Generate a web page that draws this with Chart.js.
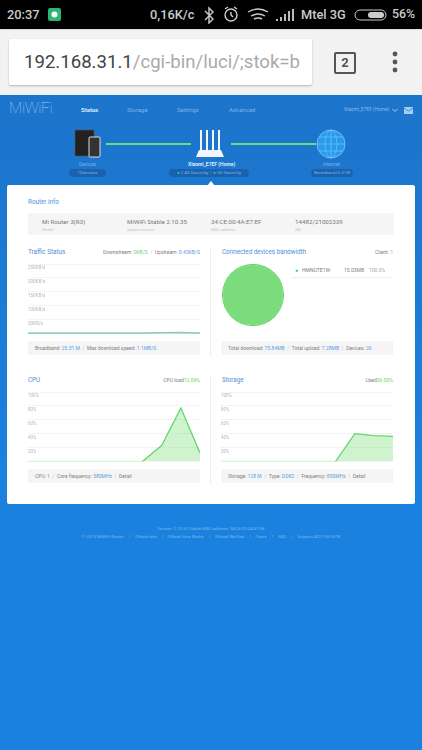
<!DOCTYPE html>
<html>
<head>
<meta charset="utf-8">
<title>MiWiFi</title>
<script src="https://cdn.jsdelivr.net/npm/chart.js@4/dist/chart.umd.min.js"></script>
<style>
  html, body { margin: 0; padding: 0; background: #1a82de; }
  body { width: 422px; height: 750px; overflow: hidden; position: relative; font-family: Roboto, sans-serif; filter: blur(.35px); }
  .a { position: absolute; white-space: nowrap; }
  .blue { color: #5b9be0; }
  .green { color: #6fd56f; }
  .sep { color: #ccc; margin: 0 2.500px; }
  .title { font-size: 6.3px; color: #4d8fdc; }
  .stat { font-size: 5px; color: #808080; }
  .box { position: absolute; background: #f5f5f5; }
  .foot { font-size: 4.3px; color: #7fb7ea; text-align: center; left: 0; width: 422px; }
  .foot i { font-style: normal; margin: 0 5.200px; }
  canvas { position: absolute; }
</style>
</head>
<body>
<!-- phone status bar -->
<div class="a" style="left:0;top:0;width:422px;height:29px;background:#000"></div>
<div class="a" style="left:7px;top:7px;font-size:12.8px;font-weight:500;color:#ccc">20:37</div>
<svg class="a" style="left:48px;top:8px" width="14" height="14"><rect width="13" height="13" rx="2" fill="#2bb573"/><circle cx="6.5" cy="6.5" r="3" fill="#fff"/></svg>
<div class="a" style="left:150px;top:7px;font-size:12.8px;font-weight:500;color:#ccc">0,16K/c</div>
<svg class="a" style="left:203px;top:6px" width="90" height="18" fill="none" stroke="#ccc" stroke-width="1.4">
  <path d="M2 5l8 8-4 4V2l4 4-8 8"/>
  <circle cx="28" cy="9" r="6"/><path d="M28 6v3l2 2M22 3l3-2M34 3l-3-2"/>
  <path d="M45 6q10-6 20 0M48 10q7-4 14 0M51 13q4-2 8 0"/>
</svg>
<svg class="a" style="left:275px;top:8px" width="20" height="14" fill="#bbb">
  <rect x="1" y="11" width="2" height="2"/><rect x="5" y="9" width="2" height="4"/><rect x="9" y="6" width="2" height="7"/><rect x="13" y="3" width="2" height="10"/><rect x="17" y="1" width="2" height="12"/>
</svg>
<div class="a" style="left:301px;top:7px;font-size:12.8px;font-weight:500;color:#ccc">Mtel 3G</div>
<svg class="a" style="left:354px;top:8px" width="35" height="14"><rect x="1" y="2" width="31" height="10" rx="5" fill="none" stroke="#ccc"/><rect x="14" y="4" width="16" height="6" rx="3" fill="#ccc"/></svg>
<div class="a" style="left:392px;top:7px;font-size:12.3px;font-weight:500;color:#ccc">56%</div>

<!-- browser toolbar -->
<div class="a" style="left:0;top:29px;width:422px;height:66px;background:#f2f2f2;border-top:1px solid #ddd;box-sizing:border-box"></div>
<div class="a" style="left:9px;top:39px;width:303px;height:46px;background:#fff;border-radius:2px;box-shadow:0 1px 2px rgba(0,0,0,.25)"></div>
<div class="a" style="left:24px;top:51px;font-size:18.6px;color:#444">192.168.31.1<span style="color:#aaa">/cgi-bin/luci/;stok=b</span></div>
<div class="a" style="left:334px;top:52px;width:18px;height:18px;border:2px solid #555;border-radius:2px;font-size:13px;font-weight:700;color:#555;text-align:center;line-height:18px">2</div>
<svg class="a" style="left:390px;top:50px" width="10" height="24" fill="#555"><circle cx="5" cy="4" r="2.4"/><circle cx="5" cy="12" r="2.4"/><circle cx="5" cy="20" r="2.4"/></svg>

<!-- router header -->
<div class="a" style="left:0;top:95px;width:422px;height:655px;background:linear-gradient(#1d74cb,#1a82de 60%)"></div>
<div class="a" style="left:9px;top:99px;font-size:15.500px;font-weight:100;color:#a9cdf0;letter-spacing:-.4px">MiWiFi</div>
<div class="a" style="left:81px;top:106px;font-size:6px;font-weight:700;color:#dcebfa">Status</div>
<div class="a" style="left:127px;top:106px;font-size:6px;color:#7fb2e6">Storage</div>
<div class="a" style="left:177px;top:106px;font-size:6px;color:#7fb2e6">Settings</div>
<div class="a" style="left:229px;top:106px;font-size:6px;color:#7fb2e6">Advanced</div>
<div class="a" style="left:344px;top:107px;font-size:4.800px;color:#89b9ea">Xiaomi_E7EF (Home)</div>
<svg class="a" style="left:392px;top:108px" width="6" height="5"><path d="M.5 1l2.500 2.500L5.500 1" stroke="#cfe3f8" fill="none" stroke-width=".8"/></svg>
<svg class="a" style="left:404px;top:107px" width="10" height="8"><rect width="9" height="7" fill="#a6cdf2"/><path d="M0 1l4.500 3 4.500-3" stroke="#1d74cb" fill="none" stroke-width=".7"/></svg>

<svg class="a" style="left:70px;top:125px" width="280" height="36">
  <rect x="5" y="5" width="19" height="26" fill="#222" stroke="#555" stroke-width=".6"/>
  <rect x="19" y="12" width="11" height="20" rx="1" fill="#333" stroke="#ddd" stroke-width="1"/>
  <rect x="36" y="18" width="85" height="2" fill="#5fe07a"/>
  <rect x="161" y="18" width="85" height="2" fill="#5fe07a"/>
  <g fill="#f2f6fa">
    <rect x="130" y="5" width="2" height="20"/><rect x="136" y="5" width="2" height="20"/><rect x="142" y="5" width="2" height="20"/><rect x="148" y="5" width="2" height="20"/>
    <path d="M126 32l3-7h22l3 7z"/>
  </g>
  <circle cx="261" cy="19" r="14" fill="#2a9bec" stroke="#8fd0fa" stroke-width=".7"/>
  <g fill="none" stroke="#8fd0fa" stroke-width=".5"><ellipse cx="261" cy="19" rx="6" ry="14"/><path d="M247 19h28M249 12h24M249 26h24M261 5v28"/></g>
</svg>
<div class="a" style="left:79px;top:161px;font-size:5px;color:#7db1e6">Devices</div>
<div class="a" style="left:69px;top:169px;width:37px;height:8px;background:#1a62ae;border-radius:4px;font-size:4.400px;color:#7db1e6;text-align:center;line-height:8px">10devices</div>
<div class="a" style="left:188px;top:161px;font-size:5px;font-weight:700;color:#dcebfa">Xiaomi_E7EF (Home)</div>
<div class="a" style="left:169px;top:169px;width:80px;height:8px;background:#1a62ae;border-radius:4px;font-size:4.200px;color:#7db1e6;line-height:8px;text-align:center"><span style="color:#30e060">&#9679;</span> 2.4G Xiaomi5g &nbsp;|&nbsp; <span style="color:#30e060">&#9679;</span> 5G Xiaomi5g</div>
<div class="a" style="left:323px;top:161px;font-size:5px;color:#7db1e6">Internet</div>
<div class="a" style="left:311px;top:169px;width:42px;height:8px;background:#1a62ae;border-radius:4px;font-size:4.400px;color:#7db1e6;text-align:center;line-height:8px">Broadband25.31M</div>
<svg class="a" style="left:204px;top:180px" width="14" height="6"><path d="M3 6l4-5 4 5z" fill="#fff"/></svg>

<!-- white card -->
<div class="a" style="left:7px;top:185px;width:408px;height:319px;background:#fff;border-radius:2px"></div>
<div class="a title" style="left:28px;top:198px">Router info</div>
<div class="box" style="left:28px;top:213px;width:366px;height:22px"></div>
<div class="a" style="left:42px;top:218px;font-size:6.200px;color:#777">Mi Router 3(R3)</div>
<div class="a" style="left:42px;top:227px;font-size:4px;color:#c4c4c4">Model</div>
<div class="a" style="left:127px;top:218px;font-size:6.200px;color:#777">MiWiFi Stable 2.10.35</div>
<div class="a" style="left:127px;top:227px;font-size:4px;color:#c4c4c4">System version</div>
<div class="a" style="left:211px;top:218px;font-size:6.200px;color:#777">34:CE:00:4A:E7:EF</div>
<div class="a" style="left:211px;top:227px;font-size:4px;color:#c4c4c4">MAC address</div>
<div class="a" style="left:295px;top:218px;font-size:6.200px;color:#777">14482/21002339</div>
<div class="a" style="left:295px;top:227px;font-size:4px;color:#c4c4c4">SN</div>

<div class="a" style="left:210px;top:248px;width:1px;height:108px;background:#eee"></div>
<div class="a" style="left:210px;top:376px;width:1px;height:108px;background:#eee"></div>

<!-- traffic panel -->
<div class="a title" style="left:28px;top:248px">Traffic Status</div>
<div class="a stat" style="right:222px;top:249px">Downstream: <span class="green">0KB/S</span><span class="sep">/</span>Upstream: <span class="blue">0.45KB/S</span></div>
<canvas id="trafficChart" style="left:28px;top:260px;width:172px;height:76px"></canvas>
<div class="box" style="left:28px;top:341px;width:172px;height:14px"></div>
<div class="a stat" style="left:35px;top:344.500px">Broadband: <span class="blue">25.31 M</span><span class="sep">/</span>Max download speed: <span class="blue">1.1MB/S</span></div>

<!-- bandwidth panel -->
<div class="a title" style="left:222px;top:248px">Connected devices bandwidth</div>
<div class="a stat" style="right:29px;top:249px">Client: <span class="green">1</span></div>
<canvas id="bandwidthChart" style="left:219px;top:261px;width:68px;height:68px"></canvas>
<div class="a" style="left:295px;top:266.500px;font-size:5px;color:#30cc50">&#9679;</div>
<div class="a stat" style="left:302px;top:267px">HMNOTE1W-</div>
<div class="a stat green" style="left:344px;top:267px">15.03MB</div>
<div class="a stat" style="left:369px;top:267px;color:#aaa">100.0%</div>
<div class="a" style="left:292px;top:277px;width:100px;border-top:1px dotted #e6e6e6"></div>
<div class="box" style="left:221px;top:341px;width:172px;height:14px"></div>
<div class="a stat" style="left:228px;top:344.500px">Total download: <span class="blue">75.84MB</span><span class="sep">/</span>Total upload: <span class="blue">7.28MB</span><span class="sep">/</span>Devices: <span class="blue">26</span></div>

<!-- cpu panel -->
<div class="a title" style="left:28px;top:376px">CPU</div>
<div class="a stat" style="right:222px;top:377px">CPU load<span class="green">12.04%</span></div>
<canvas id="cpuChart" style="left:28px;top:388px;width:172px;height:76px"></canvas>
<div class="box" style="left:28px;top:469px;width:172px;height:14px"></div>
<div class="a stat" style="left:35px;top:472.500px">CPU: <span class="blue">1</span><span class="sep">/</span>Core frequency: <span class="blue">580MHz</span><span class="sep">/</span>Detail</div>

<!-- storage panel -->
<div class="a title" style="left:222px;top:376px">Storage</div>
<div class="a stat" style="right:29px;top:377px">Used<span class="green">36.00%</span></div>
<canvas id="storageChart" style="left:221px;top:388px;width:172px;height:76px"></canvas>
<div class="box" style="left:221px;top:469px;width:172px;height:14px"></div>
<div class="a stat" style="left:228px;top:472.500px">Storage: <span class="blue">128 M</span><span class="sep">/</span>Type: <span class="blue">DDR2</span><span class="sep">/</span>Frequency: <span class="blue">800MHz</span><span class="sep">/</span>Detail</div>

<!-- footer -->
<div class="a foot" style="top:525.500px">Version: 2.10.35 Stable MAC address: 34:CE:00:4A:E7:EF</div>
<div class="a foot" style="top:534px">&copy; 2015 MiWiFi Router<i>|</i>Official site<i>|</i>Official Sina Weibo<i>|</i>Official WeChat<i>|</i>Users<i>|</i>FAQ<i>|</i>Support 400-100-5678</div>

<script>
// Chart values
const sampleLabels = ['1', '2', '3', '4', '5', '6', '7', '8', '9', '10'];
const trafficTicks = ['50KB/s', '100KB/s', '150KB/s', '200KB/s', '250KB/s'];
const downstream = [0.3, 0.3, 0.3, 0.3, 0.3, 0.3, 0.3, 1.5, 1.5, 0.3];
const upstream = [0.3, 0.3, 0.3, 0.3, 0.3, 0.3, 0.3, 2.5, 3.5, 0.8];
const deviceNames = ['HMNOTE1W-'];
const deviceBandwidth = [15.03];
const cpuLoad = [0, 0, 0, 0, 0, 0, 0, 23, 77, 12];
const storageUsed = [0, 0, 0, 0, 0, 0, 0, 40, 37, 36];

const gridDots = { color: '#e8e8e8', lineWidth: 1, tickLength: 0 };

// Shared options for the three small line charts, labels sit just under each gridline
function lineOptions(maxValue, stepSize, tickText) {
  return {
    responsive: false,
    animation: false,
    layout: { padding: { top: 4, bottom: 2 } },
    plugins: { legend: { display: false }, tooltip: { enabled: false } },
    elements: { point: { radius: 0 }, line: { tension: 0 } },
    scales: {
      x: { display: false, offset: false },
      y: {
        min: 0,
        max: maxValue,
        afterFit(scale) { scale.width = 0; },
        border: { display: false, dash: [1, 1] },
        grid: gridDots,
        ticks: {
          stepSize: stepSize,
          mirror: true,
          padding: 0,
          labelOffset: 4,
          color: '#b5b5b5',
          font: { size: 4.5, family: 'Roboto' },
          callback: tickText,
        },
      },
    },
  };
}

const percentTick = (value) => (value === 0 ? '' : value + '%');
const trafficTick = (value) => (value === 0 ? '' : trafficTicks[value / 50 - 1]);

// Green line with pale fill, the flat zero stretch is drawn pale too
function greenSeries(values) {
  return {
    data: values,
    borderColor: '#63d86b',
    borderWidth: 1.3,
    backgroundColor: 'rgba(110, 220, 110, 0.33)',
    fill: 'origin',
    clip: false,
    segment: {
      borderColor: (ctx) => (ctx.p0.parsed.y === 0 && ctx.p1.parsed.y === 0 ? '#d6f5d6' : undefined),
    },
  };
}

new Chart(document.getElementById('trafficChart'), {
  type: 'line',
  data: {
    labels: sampleLabels,
    datasets: [
      { data: downstream, borderColor: 'rgba(120, 220, 150, 0.7)', borderWidth: 1.2, fill: false, clip: false },
      { data: upstream, borderColor: 'rgba(70, 140, 210, 0.6)', borderWidth: 1.2, fill: false, clip: false },
    ],
  },
  options: lineOptions(250, 50, trafficTick),
});

new Chart(document.getElementById('cpuChart'), {
  type: 'line',
  data: { labels: sampleLabels, datasets: [greenSeries(cpuLoad)] },
  options: lineOptions(100, 20, percentTick),
});

new Chart(document.getElementById('storageChart'), {
  type: 'line',
  data: { labels: sampleLabels, datasets: [greenSeries(storageUsed)] },
  options: lineOptions(100, 20, percentTick),
});

// Thin darker ring plus fill, a single slice with a border would show a seam
new Chart(document.getElementById('bandwidthChart'), {
  type: 'doughnut',
  data: {
    labels: deviceNames,
    datasets: [
      { data: deviceBandwidth, backgroundColor: '#5fd25f', borderWidth: 0, weight: 1 },
      { data: deviceBandwidth, backgroundColor: '#7bdc7b', borderWidth: 0, weight: 30 },
    ],
  },
  options: {
    responsive: false,
    animation: false,
    cutout: 0,
    layout: { padding: 3 },
    plugins: { legend: { display: false }, tooltip: { enabled: false } },
  },
});
</script>
</body>
</html>
